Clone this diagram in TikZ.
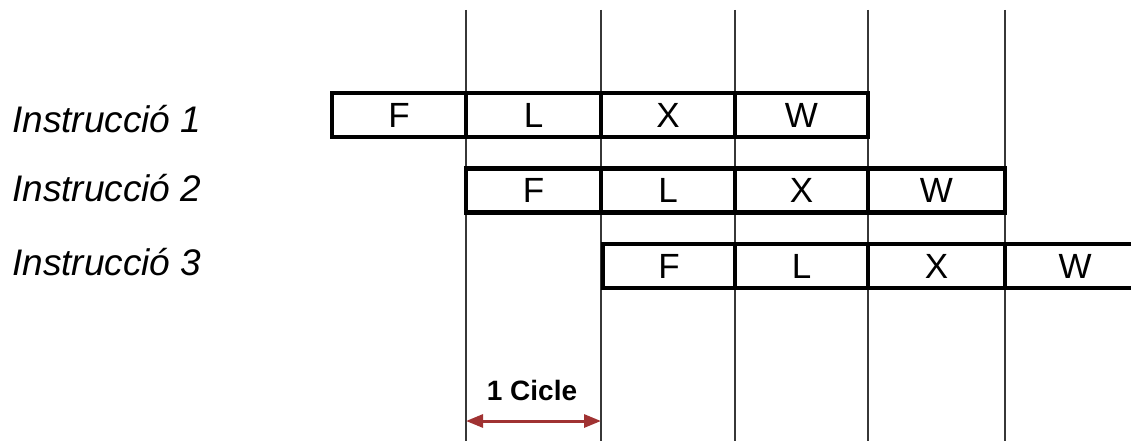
\documentclass[tikz,border=0pt]{standalone}
\usepackage{fontspec}
\setmainfont{Liberation Sans}
\usetikzlibrary{arrows.meta}
\definecolor{gridc}{RGB}{55,55,55}
\definecolor{arrowc}{RGB}{160,50,50}
\begin{document}
\begin{tikzpicture}[x=1pt,y=-1pt,
  gridline/.style={draw=gridc,line width=2.6pt},
  cell/.style={draw=black,fill=white,line width=4.5pt,inner sep=0pt,minimum height=44pt,
    font=\fontsize{35}{40}\selectfont},
  instr/.style={anchor=base west,inner sep=0pt,font=\fontsize{37}{42}\selectfont\itshape},
  cyclearrow/.style={draw=arrowc,line width=3pt,{Triangle[length=17pt,width=13pt]}-{Triangle[length=17pt,width=13pt]}},
  cyclelabel/.style={inner sep=0pt,font=\fontsize{28}{32}\selectfont\bfseries}]
\useasboundingbox (0,0) rectangle (1131,441);
% grid lines
\foreach \n/\x in {1/466,2/601,3/735,4/868,5/1005}{
  \coordinate (t\n) at (\x,10);
  \coordinate (b\n) at (\x,441);
  \draw[gridline] (t\n) -- (b\n);
}
% labels
\node[instr] (i1) at (12,132) {Instrucció 1};
\node[instr] (i2) at (12,201) {Instrucció 2};
\node[instr] (i3) at (12,275) {Instrucció 3};
% row 1
\node[cell,minimum width=134pt] (r1f) at (399,115) {F};
\node[cell,minimum width=135pt] (r1l) at (533.5,115) {L};
\node[cell,minimum width=134pt] (r1x) at (668,115) {X};
\node[cell,minimum width=133pt] (r1w) at (801.5,115) {W};
% row 2
\node[cell,minimum width=135pt] (r2f) at (533.5,190.5) {F};
\node[cell,minimum width=134pt] (r2l) at (668,190.5) {L};
\node[cell,minimum width=133pt] (r2x) at (801.5,190.5) {X};
\node[cell,minimum width=137pt] (r2w) at (936.5,190.5) {W};
% row 3
\node[cell,minimum width=132pt] (r3f) at (669,266) {F};
\node[cell,minimum width=133pt] (r3l) at (801.5,266) {L};
\node[cell,minimum width=137pt] (r3x) at (936.5,266) {X};
\node[cell,minimum width=140pt] (r3w) at (1075,266) {W};
% cycle arrow
\coordinate (a1) at (466,421);
\coordinate (a2) at (601,421);
\draw[cyclearrow] (a1) -- (a2);
\node[cyclelabel] (cyc) at (532,390) {1 Cicle};
\end{tikzpicture}
\end{document}
